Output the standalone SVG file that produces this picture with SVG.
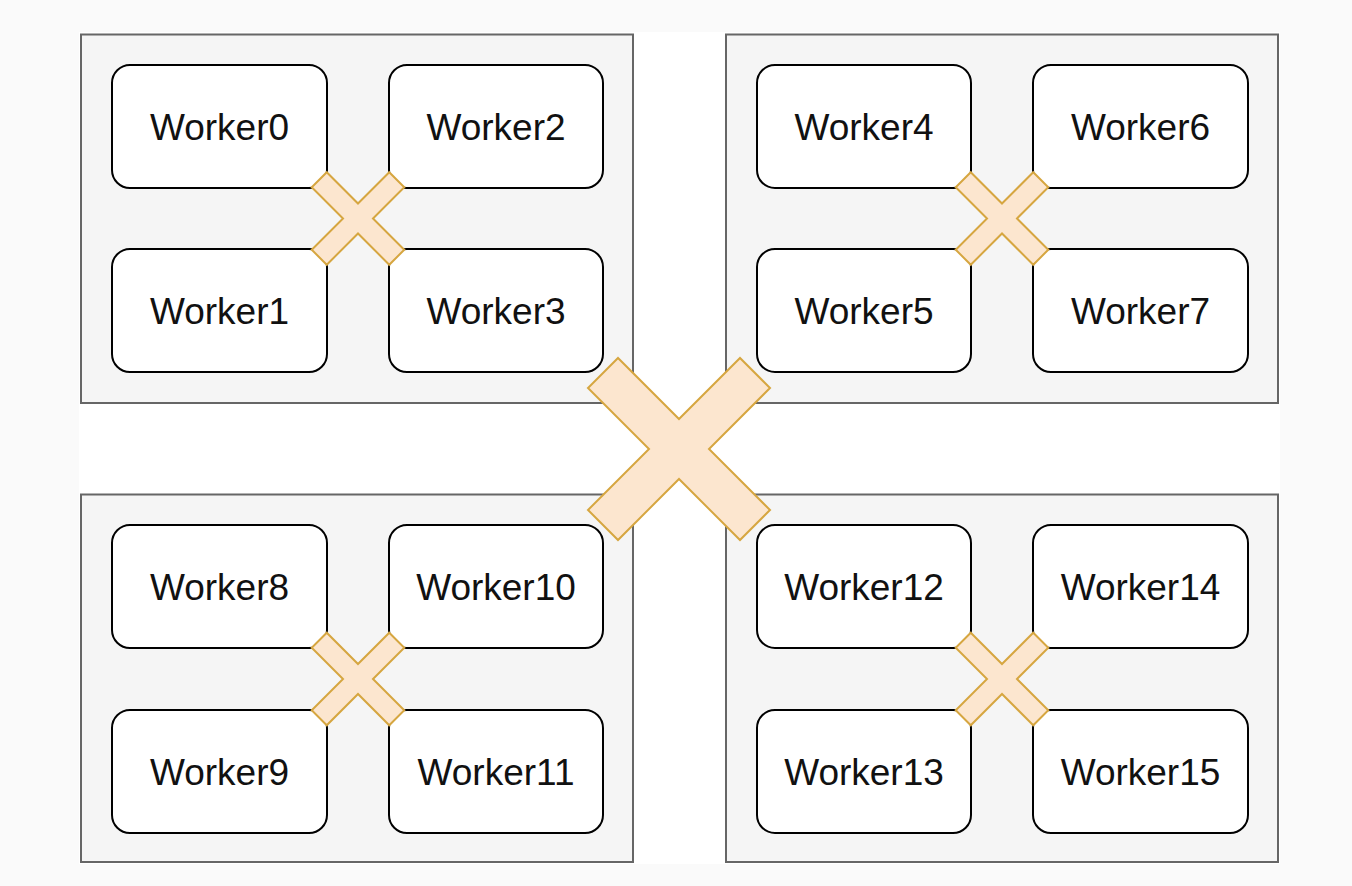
<svg xmlns="http://www.w3.org/2000/svg" xmlns:xlink="http://www.w3.org/1999/xlink" width="1352" height="886" viewBox="0 0 1352 886">
  <style>
    .bg { fill: #fafafa; }
    .canvas { fill: #ffffff; }
    .container { fill: #f5f5f5; stroke: #666666; stroke-width: 2; }
    .worker { fill: #ffffff; stroke: #000000; stroke-width: 2; }
    .label { font-family: "Liberation Sans", Arial, Helvetica, sans-serif; font-size: 37px; fill: #111111; text-anchor: middle; }
    .cross { fill: #fce6cf; stroke: #d6a640; stroke-width: 2; stroke-linejoin: miter; }
  </style>
  <defs>
    <path id="x-small" d="M0,-15 L31.25,-46.25 L46.25,-31.25 L15,0 L46.25,31.25 L31.25,46.25 L0,15 L-31.25,46.25 L-46.25,31.25 L-15,0 L-46.25,-31.25 L-31.25,-46.25 Z"/>
    <path id="x-big" d="M0,-30 L61,-91 L91,-61 L30,0 L91,61 L61,91 L0,30 L-61,91 L-91,61 L-30,0 L-91,-61 L-61,-91 Z"/>
  </defs>

  <rect class="bg" x="0" y="0" width="1352" height="886"/>
  <rect class="canvas" x="79" y="32" width="1201" height="832"/>

  <g id="container-tl"><rect class="container" x="81" y="34.5" width="552" height="368.5"/></g>
  <g id="container-tr"><rect class="container" x="726" y="34.5" width="552" height="368.5"/></g>
  <g id="container-bl"><rect class="container" x="81" y="494.5" width="552" height="367.5"/></g>
  <g id="container-br"><rect class="container" x="726" y="494.5" width="552" height="367.5"/></g>

  <g id="worker0"><rect class="worker" x="112" y="65" width="215" height="123" rx="18"/><text class="label" x="219.5" y="140">Worker0</text></g>
  <g id="worker2"><rect class="worker" x="389" y="65" width="214" height="123" rx="18"/><text class="label" x="496" y="140">Worker2</text></g>
  <g id="worker1"><rect class="worker" x="112" y="249" width="215" height="123" rx="18"/><text class="label" x="219.5" y="324">Worker1</text></g>
  <g id="worker3"><rect class="worker" x="389" y="249" width="214" height="123" rx="18"/><text class="label" x="496" y="324">Worker3</text></g>

  <g id="worker4"><rect class="worker" x="757" y="65" width="214" height="123" rx="18"/><text class="label" x="864" y="140">Worker4</text></g>
  <g id="worker6"><rect class="worker" x="1033" y="65" width="215" height="123" rx="18"/><text class="label" x="1140.5" y="140">Worker6</text></g>
  <g id="worker5"><rect class="worker" x="757" y="249" width="214" height="123" rx="18"/><text class="label" x="864" y="324">Worker5</text></g>
  <g id="worker7"><rect class="worker" x="1033" y="249" width="215" height="123" rx="18"/><text class="label" x="1140.5" y="324">Worker7</text></g>

  <g id="worker8"><rect class="worker" x="112" y="525" width="215" height="123" rx="18"/><text class="label" x="219.5" y="600">Worker8</text></g>
  <g id="worker10"><rect class="worker" x="389" y="525" width="214" height="123" rx="18"/><text class="label" x="496" y="600">Worker10</text></g>
  <g id="worker9"><rect class="worker" x="112" y="710" width="215" height="123" rx="18"/><text class="label" x="219.5" y="785">Worker9</text></g>
  <g id="worker11"><rect class="worker" x="389" y="710" width="214" height="123" rx="18"/><text class="label" x="496" y="785">Worker11</text></g>

  <g id="worker12"><rect class="worker" x="757" y="525" width="214" height="123" rx="18"/><text class="label" x="864" y="600">Worker12</text></g>
  <g id="worker14"><rect class="worker" x="1033" y="525" width="215" height="123" rx="18"/><text class="label" x="1140.5" y="600">Worker14</text></g>
  <g id="worker13"><rect class="worker" x="757" y="710" width="214" height="123" rx="18"/><text class="label" x="864" y="785">Worker13</text></g>
  <g id="worker15"><rect class="worker" x="1033" y="710" width="215" height="123" rx="18"/><text class="label" x="1140.5" y="785">Worker15</text></g>

  <g id="switch-tl"><use class="cross" xlink:href="#x-small" href="#x-small" transform="translate(358,218.5)"/></g>
  <g id="switch-tr"><use class="cross" xlink:href="#x-small" href="#x-small" transform="translate(1002,218.5)"/></g>
  <g id="switch-bl"><use class="cross" xlink:href="#x-small" href="#x-small" transform="translate(358,679)"/></g>
  <g id="switch-br"><use class="cross" xlink:href="#x-small" href="#x-small" transform="translate(1002,679)"/></g>
  <g id="switch-main"><use class="cross" xlink:href="#x-big" href="#x-big" transform="translate(679,449)"/></g>

  <g id="connectors"></g>
</svg>
